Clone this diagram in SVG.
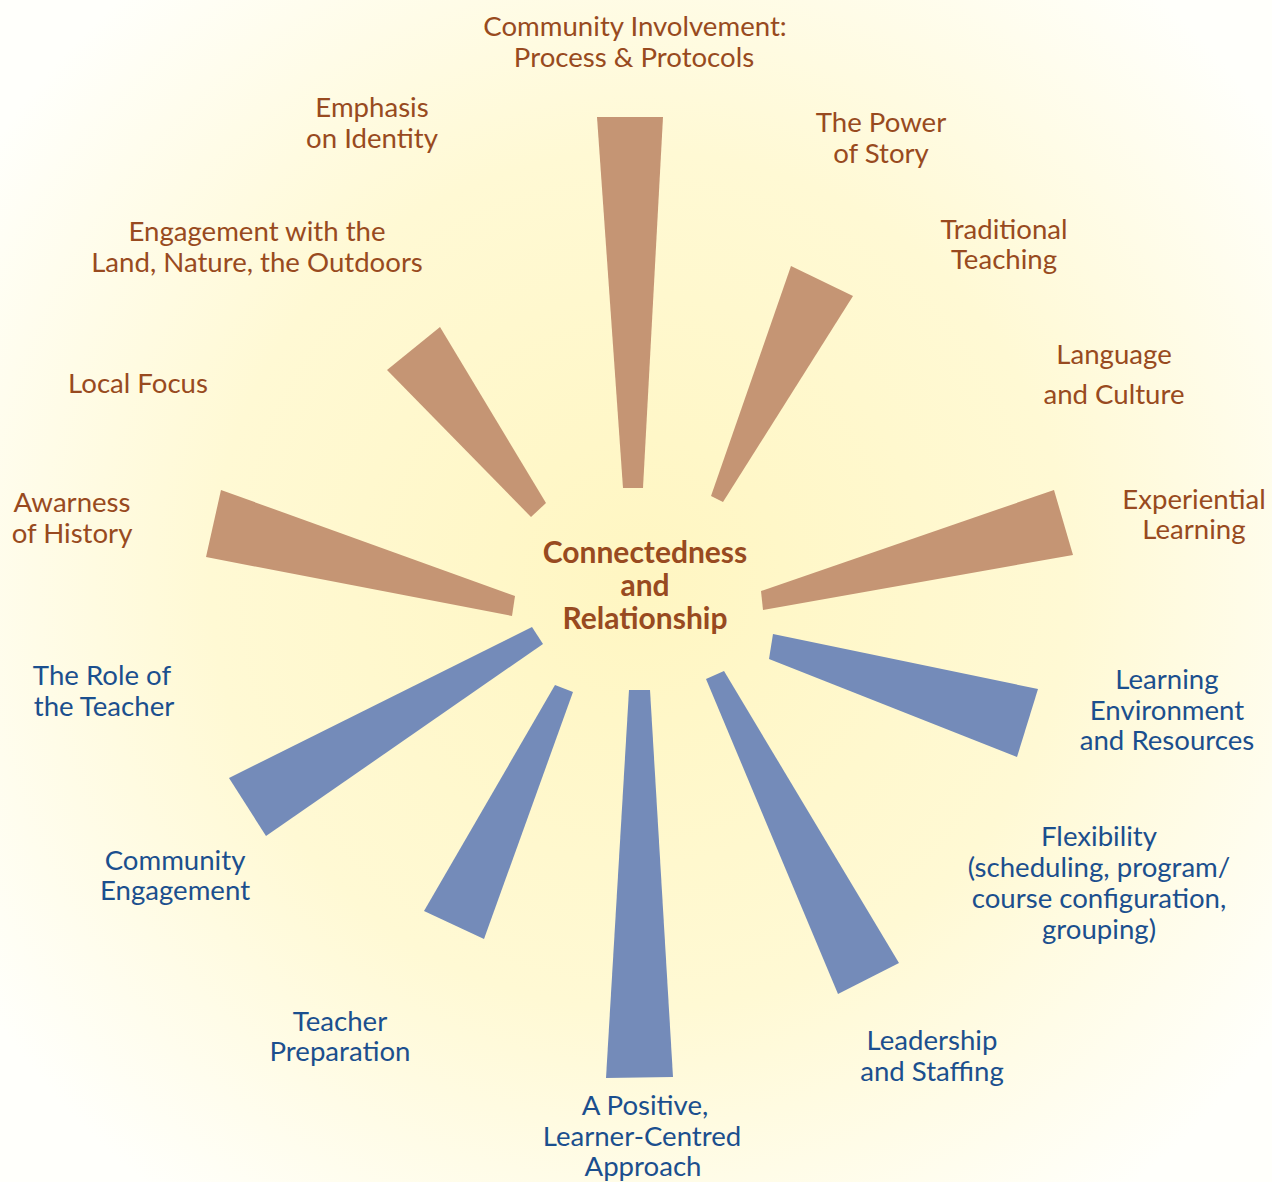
<svg xmlns="http://www.w3.org/2000/svg" width="1272" height="1182" viewBox="0 0 1272 1182">
<defs>
<radialGradient id="bg" gradientUnits="userSpaceOnUse" cx="640" cy="580" r="780">
<stop offset="0" stop-color="#FFF6C2"/>
<stop offset="0.55" stop-color="#FFF9D4"/>
<stop offset="1" stop-color="#FFFFFB"/>
</radialGradient>
<style>
.b{fill:#C59574}
.u{fill:#748BB9}
text{font-family:Lato,"Open Sans",sans-serif;font-size:27.6px;text-anchor:middle}
.tb{fill:#984A20}
.tu{fill:#1B4F8E}
.c{fill:#984A20;font-weight:bold;font-size:30px}
</style>
</defs>
<rect width="1272" height="1182" fill="url(#bg)"/>
<g id="connectors">
<polygon class="b" points="597,117 663,117 643,488 623,488"/>
<polygon class="b" points="387,370 440,327 546,503 531,517"/>
<polygon class="b" points="221,490 515,596 512,616 206,557"/>
<polygon class="b" points="791,266 853,296 723,502 711,496"/>
<polygon class="b" points="1054,490 1073,555 763,610 761,591"/>
<polygon class="u" points="773,634 1038,689 1017,757 769,659"/>
<polygon class="u" points="532,627 543,644 266,836 229,778"/>
<polygon class="u" points="555,685 573,692 484,939 424,911"/>
<polygon class="u" points="629,690 650,690 673,1077 606,1078"/>
<polygon class="u" points="706,679 724,671 899,963 838,994"/>
</g>
<g id="center"><text class="c" x="645" y="563">Connectedness</text><text class="c" x="645" y="596">and</text><text class="c" x="645" y="629">Relationship</text></g>
<g id="community-involvement" class="tb"><text x="635" y="36">Community Involvement:</text><text x="634" y="67">Process &amp; Protocols</text></g>
<g id="emphasis-identity" class="tb"><text x="372" y="117">Emphasis</text><text x="372" y="148">on Identity</text></g>
<g id="power-of-story" class="tb"><text x="881" y="132">The Power</text><text x="881" y="163">of Story</text></g>
<g id="traditional-teaching" class="tb"><text x="1004" y="239">Traditional</text><text x="1004" y="269">Teaching</text></g>
<g id="engagement-land" class="tb"><text x="257" y="241">Engagement with the</text><text x="257" y="272">Land, Nature, the Outdoors</text></g>
<g id="language-culture" class="tb"><text x="1114" y="364">Language</text><text x="1114" y="404">and Culture</text></g>
<g id="local-focus" class="tb"><text x="138" y="393">Local Focus</text></g>
<g id="experiential-learning" class="tb"><text x="1194" y="509">Experiential</text><text x="1194" y="539">Learning</text></g>
<g id="awareness-history" class="tb"><text x="72" y="512">Awarness</text><text x="72" y="543">of History</text></g>
<g id="role-teacher" class="tu"><text x="102" y="685">The Role of</text><text x="104" y="716">the Teacher</text></g>
<g id="learning-environment" class="tu"><text x="1167" y="689">Learning</text><text x="1167" y="720">Environment</text><text x="1167" y="750">and Resources</text></g>
<g id="flexibility" class="tu"><text x="1099" y="846">Flexibility</text><text x="1099" y="877">(scheduling, program/</text><text x="1099" y="908">course configuration,</text><text x="1099" y="939">grouping)</text></g>
<g id="community-engagement" class="tu"><text x="175" y="870">Community</text><text x="175" y="900">Engagement</text></g>
<g id="teacher-preparation" class="tu"><text x="340" y="1031">Teacher</text><text x="340" y="1061">Preparation</text></g>
<g id="leadership-staffing" class="tu"><text x="932" y="1050">Leadership</text><text x="932" y="1081">and Staffing</text></g>
<g id="positive-approach" class="tu"><text x="645" y="1115">A Positive,</text><text x="642" y="1146">Learner-Centred</text><text x="643" y="1176">Approach</text></g>
</svg>
